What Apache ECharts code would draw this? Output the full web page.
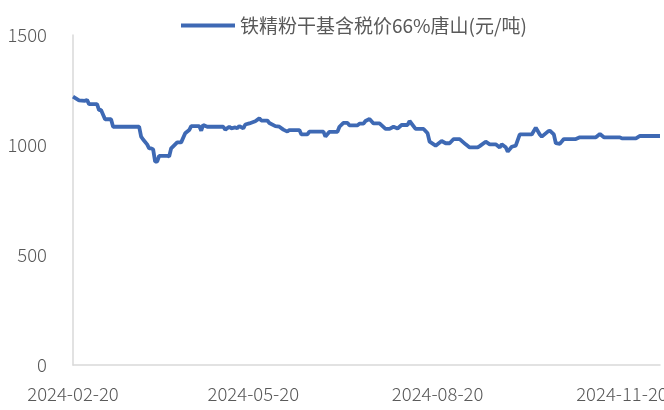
<!DOCTYPE html>
<html>
<head>
<meta charset="utf-8">
<script src="https://cdn.jsdelivr.net/npm/echarts@6/dist/echarts.min.js"></script>
<style>
  html, body { margin: 0; padding: 0; background: #fff; }
  #chart { width: 664px; height: 410px; }
</style>
</head>
<body>
<div id="chart"></div>
<script>
// series name and axis range
const seriesName = '铁精粉干基含税价66%唐山(元/吨)';
const startDate = '2024-02-20';
const endDate = '2024-12-09';
const tickLabels = ['2024-02-20', '2024-05-20', '2024-08-20', '2024-11-20'];

// price readings (date, value)
const priceDates = [
  '2024-02-20', '2024-02-23', '2024-02-26', '2024-02-27', '2024-02-28', '2024-03-03', '2024-03-04', '2024-03-05',
  '2024-03-07', '2024-03-10', '2024-03-11', '2024-03-24', '2024-03-25', '2024-03-26', '2024-03-28', '2024-03-29',
  '2024-03-30', '2024-03-31', '2024-04-01', '2024-04-02', '2024-04-03', '2024-04-07', '2024-04-08', '2024-04-09',
  '2024-04-12', '2024-04-14', '2024-04-16', '2024-04-18', '2024-04-19', '2024-04-23', '2024-04-24', '2024-04-25',
  '2024-04-27', '2024-05-05', '2024-05-06', '2024-05-08', '2024-05-09', '2024-05-11', '2024-05-12', '2024-05-13',
  '2024-05-15', '2024-05-16', '2024-05-18', '2024-05-21', '2024-05-23', '2024-05-24', '2024-05-27', '2024-05-28',
  '2024-05-31', '2024-06-02', '2024-06-04', '2024-06-06', '2024-06-07', '2024-06-12', '2024-06-13', '2024-06-16',
  '2024-06-17', '2024-06-24', '2024-06-25', '2024-06-27', '2024-07-01', '2024-07-02', '2024-07-04', '2024-07-06',
  '2024-07-07', '2024-07-11', '2024-07-12', '2024-07-14', '2024-07-15', '2024-07-17', '2024-07-19', '2024-07-22',
  '2024-07-25', '2024-07-27', '2024-07-29', '2024-07-31', '2024-08-02', '2024-08-05', '2024-08-06', '2024-08-09',
  '2024-08-13', '2024-08-15', '2024-08-16', '2024-08-19', '2024-08-22', '2024-08-24', '2024-08-26', '2024-08-28',
  '2024-08-31', '2024-09-03', '2024-09-05', '2024-09-09', '2024-09-10', '2024-09-13', '2024-09-15', '2024-09-18',
  '2024-09-20', '2024-09-21', '2024-09-23', '2024-09-24', '2024-09-26', '2024-09-28', '2024-09-30', '2024-10-06',
  '2024-10-08', '2024-10-10', '2024-10-11', '2024-10-14', '2024-10-15', '2024-10-17', '2024-10-18', '2024-10-20',
  '2024-10-22', '2024-10-28', '2024-10-30', '2024-11-07', '2024-11-09', '2024-11-11', '2024-11-19', '2024-11-20',
  '2024-11-27', '2024-11-29', '2024-12-09'
];
const priceValues = [
  1220, 1203, 1201, 1205, 1186, 1186, 1159, 1159,
  1117, 1117, 1083, 1083, 1038, 1025, 1003, 985,
  985, 980, 924, 924, 951, 951, 948, 985,
  1012, 1012, 1053, 1068, 1086, 1086, 1065, 1091,
  1083, 1083, 1070, 1083, 1076, 1080, 1076, 1086,
  1076, 1093, 1098, 1108, 1121, 1111, 1111, 1100,
  1086, 1083, 1070, 1061, 1068, 1068, 1048, 1048,
  1061, 1061, 1038, 1060, 1060, 1083, 1101, 1101,
  1089, 1089, 1097, 1097, 1109, 1118, 1098, 1098,
  1073, 1073, 1083, 1075, 1091, 1091, 1109, 1073,
  1073, 1053, 1015, 997, 1018, 1008, 1008, 1027,
  1027, 1003, 989, 989, 995, 1015, 1003, 1003,
  989, 1003, 990, 970, 992, 997, 1048, 1048,
  1079, 1048, 1038, 1061, 1065, 1048, 1008, 1005,
  1027, 1027, 1035, 1035, 1050, 1035, 1035, 1030,
  1030, 1041, 1041
];

// every calendar day on the axis
const categories = [];
for (let t = Date.parse(startDate); t <= Date.parse(endDate); t += 86400000) {
  categories.push(new Date(t).toISOString().slice(0, 10));
}
const lookup = {};
priceDates.forEach((d, i) => { lookup[d] = priceValues[i]; });
const seriesData = categories.map(d => (d in lookup ? lookup[d] : null));

const labelFont = "'Noto Sans CJK SC', 'Noto Sans', sans-serif";
const chart = echarts.init(document.getElementById('chart'));
chart.setOption({
  animation: false,
  legend: {
    left: 176,
    top: 11,
    icon: 'rect',
    itemWidth: 54,
    itemHeight: 4,
    textStyle: { color: '#595959', fontSize: 19, fontFamily: "'Noto Sans CJK SC', sans-serif" },
    data: [seriesName]
  },
  grid: { left: 73, right: 4, top: 35, bottom: 45, outerBoundsMode: 'none', containLabel: false },
  xAxis: {
    type: 'category',
    data: categories,
    boundaryGap: false,
    axisLine: { lineStyle: { color: '#d9d9d9', width: 1.5 } },
    axisTick: { show: false },
    axisLabel: {
      interval: (idx, val) => tickLabels.includes(val),
      color: '#595959',
      fontSize: 18.5,
      fontWeight: 300,
      fontFamily: labelFont,
      margin: 20,
      hideOverlap: false
    }
  },
  yAxis: {
    type: 'value',
    min: 0,
    max: 1500,
    interval: 500,
    axisLine: { show: true, lineStyle: { color: '#d9d9d9', width: 1.5 } },
    axisTick: { show: false },
    splitLine: { show: false },
    axisLabel: {
      color: '#595959',
      fontSize: 18.5,
      fontWeight: 300,
      fontFamily: labelFont,
      margin: 26,
      formatter: v => String(v)
    }
  },
  series: [{
    name: seriesName,
    type: 'line',
    data: seriesData,
    connectNulls: true,
    showSymbol: false,
    lineStyle: { color: '#3E69B4', width: 3.8 },
    itemStyle: { color: '#3E69B4' }
  }]
});
</script>
</body>
</html>
